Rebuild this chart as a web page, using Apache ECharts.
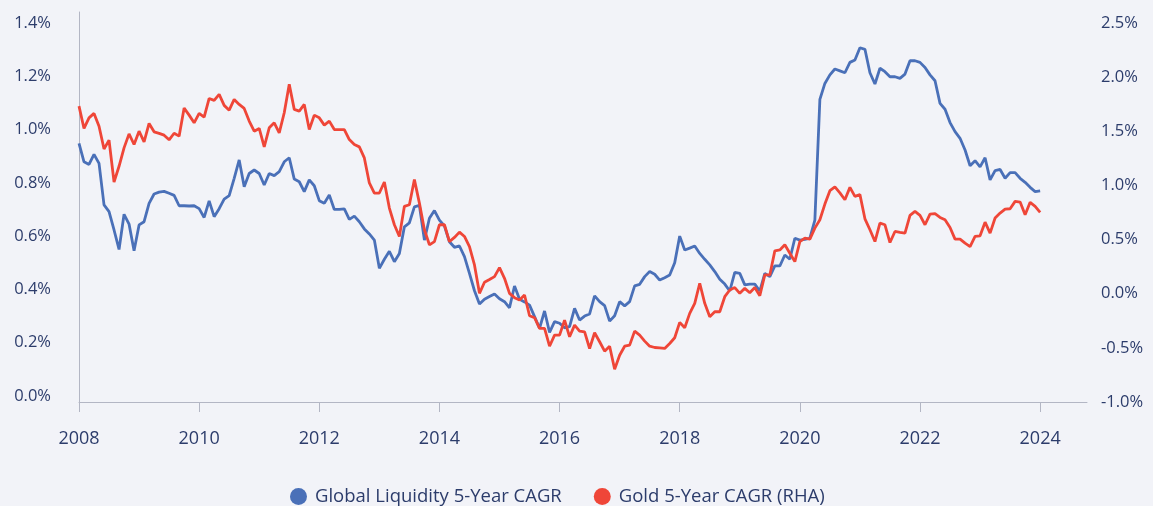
<!DOCTYPE html>
<html><head><meta charset="utf-8">
<script src="https://cdn.jsdelivr.net/npm/echarts@6/dist/echarts.min.js"></script>
<style>html,body{margin:0;padding:0;background:#f2f3f8;}#c{width:1153px;height:506px;}</style>
</head><body><div id="c"></div>
<script>
// Monthly observations, Jan 2008 .. Jan 2024
const startYear = 2008;
const xTickYears = [2008, 2010, 2012, 2014, 2016, 2018, 2020, 2022, 2024];
const leftTicks = [0, 0.2, 0.4, 0.6, 0.8, 1.0, 1.2, 1.4];
const rightTicks = [-1.0, -0.5, 0, 0.5, 1.0, 1.5, 2.0, 2.5];
const seriesNames = ['Global Liquidity 5-Year CAGR', 'Gold 5-Year CAGR (RHA)'];

const liquidity = [
 0.948,0.879,0.869,0.907,0.873,0.717,0.692,0.623,0.550,0.682,0.645,0.545,
 0.642,0.654,0.723,0.758,0.765,0.768,0.761,0.753,0.714,0.714,0.713,0.714,
 0.703,0.670,0.732,0.673,0.703,0.739,0.752,0.817,0.886,0.785,0.835,0.848,
 0.835,0.792,0.835,0.827,0.842,0.879,0.894,0.814,0.804,0.767,0.811,0.789,
 0.733,0.723,0.754,0.700,0.700,0.702,0.663,0.675,0.654,0.627,0.608,0.585,
 0.479,0.513,0.543,0.504,0.535,0.635,0.650,0.710,0.715,0.585,0.667,0.696,
 0.660,0.638,0.579,0.558,0.563,0.523,0.460,0.395,0.345,0.363,0.373,0.383,
 0.365,0.354,0.331,0.413,0.363,0.353,0.341,0.298,0.254,0.319,0.239,0.279,
 0.273,0.256,0.260,0.329,0.285,0.300,0.308,0.376,0.354,0.339,0.281,0.301,
 0.354,0.338,0.354,0.413,0.419,0.448,0.467,0.457,0.435,0.444,0.454,0.500,
 0.600,0.548,0.555,0.563,0.535,0.513,0.492,0.467,0.438,0.420,0.394,0.464,
 0.460,0.417,0.420,0.420,0.394,0.460,0.448,0.488,0.488,0.529,0.513,0.592,
 0.585,0.588,0.592,0.660,1.113,1.173,1.205,1.227,1.220,1.213,1.252,1.261,
 1.307,1.301,1.213,1.171,1.230,1.217,1.198,1.198,1.192,1.208,1.258,1.258,
 1.252,1.233,1.205,1.183,1.098,1.076,1.026,0.992,0.967,0.923,0.864,0.883,
 0.860,0.894,0.811,0.846,0.850,0.817,0.838,0.838,0.817,0.802,0.783,0.767,
 0.770
];

const gold = [
 1.731,1.525,1.623,1.664,1.546,1.336,1.417,1.031,1.176,1.346,1.475,1.377,
 1.500,1.401,1.571,1.494,1.480,1.463,1.420,1.481,1.454,1.713,1.648,1.577,
 1.664,1.630,1.802,1.784,1.840,1.738,1.694,1.793,1.747,1.710,1.593,1.500,
 1.525,1.355,1.531,1.577,1.485,1.670,1.932,1.701,1.685,1.747,1.515,1.648,
 1.623,1.556,1.593,1.515,1.515,1.515,1.423,1.377,1.355,1.253,1.022,0.929,
 0.929,1.031,0.790,0.636,0.528,0.806,0.821,1.053,0.836,0.590,0.451,0.481,
 0.636,0.636,0.481,0.519,0.568,0.528,0.435,0.265,0.003,0.105,0.130,0.157,
 0.241,0.142,0.003,-0.037,-0.059,-0.012,-0.204,-0.222,-0.321,-0.321,-0.485,-0.383,
 -0.383,-0.244,-0.398,-0.290,-0.346,-0.352,-0.506,-0.361,-0.444,-0.531,-0.485,-0.698,
 -0.568,-0.485,-0.475,-0.346,-0.383,-0.438,-0.485,-0.497,-0.500,-0.506,-0.460,-0.407,
 -0.265,-0.315,-0.182,-0.089,0.096,-0.089,-0.213,-0.167,-0.167,-0.028,0.034,0.056,
 0.003,0.049,0.009,0.056,-0.019,0.173,0.173,0.395,0.404,0.451,0.373,0.296,
 0.481,0.512,0.503,0.605,0.682,0.827,0.951,0.985,0.930,0.867,0.981,0.898,
 0.914,0.691,0.590,0.481,0.651,0.636,0.472,0.574,0.565,0.559,0.722,0.759,
 0.722,0.636,0.735,0.738,0.704,0.682,0.611,0.503,0.503,0.466,0.435,0.528,
 0.534,0.660,0.559,0.698,0.744,0.781,0.784,0.852,0.846,0.728,0.843,0.806,
 0.750
];

const toPairs = vals => vals.map((v, i) => [startYear + i / 12, v]);
const txt = '#2c3c6b';
const font = '"Open Sans"';
const axisGrey = '#b3b6c4';

const chart = echarts.init(document.getElementById('c'), null, {renderer: 'canvas'});
chart.setOption({
  backgroundColor: '#f2f3f8',
  animation: false,
  textStyle: {fontFamily: font, color: txt},
  grid: {left: 79, right: 66, top: 12, bottom: 104, containLabel: false},
  legend: {
    left: 285, top: 482,
    icon: 'circle', itemWidth: 17, itemHeight: 17, itemGap: 32,
    textStyle: {fontFamily: font, fontSize: 18.5, color: txt, padding: [0, 0, 0, 3]},
    data: seriesNames
  },
  xAxis: {
    type: 'value', min: 2008, max: 2024.78,
    axisLine: {show: true, onZero: false, lineStyle: {color: axisGrey, width: 1}},
    axisTick: {show: true, length: 10, lineStyle: {color: axisGrey}, customValues: xTickYears},
    axisLabel: {customValues: xTickYears, fontSize: 18, color: txt, margin: 28, fontFamily: font,
      formatter: v => String(Math.round(v))},
    splitLine: {show: false}
  },
  yAxis: [{
    type: 'value', min: -0.0225, max: 1.441, position: 'left',
    axisLine: {show: true, lineStyle: {color: axisGrey, width: 1}},
    axisTick: {show: false},
    splitLine: {show: false},
    axisLabel: {customValues: leftTicks, fontSize: 16.5, color: txt, margin: 28, fontFamily: font,
      formatter: v => v.toFixed(1) + '%'}
  }, {
    type: 'value', min: -1.0, max: 2.6, position: 'right',
    axisLine: {show: false}, axisTick: {show: false}, splitLine: {show: false},
    axisLabel: {customValues: rightTicks, fontSize: 16.5, color: txt, margin: 14, fontFamily: font,
      formatter: v => v.toFixed(1) + '%'}
  }],
  series: [{
    name: seriesNames[0], type: 'line', yAxisIndex: 0, showSymbol: false, symbol: 'none',
    data: toPairs(liquidity), color: '#4a70b8', lineStyle: {width: 2.8, color: '#4a70b8'}
  }, {
    name: seriesNames[1], type: 'line', yAxisIndex: 1, showSymbol: false, symbol: 'none',
    data: toPairs(gold), color: '#ef4638', lineStyle: {width: 2.8, color: '#ef4638'}
  }]
});
</script></body></html>
